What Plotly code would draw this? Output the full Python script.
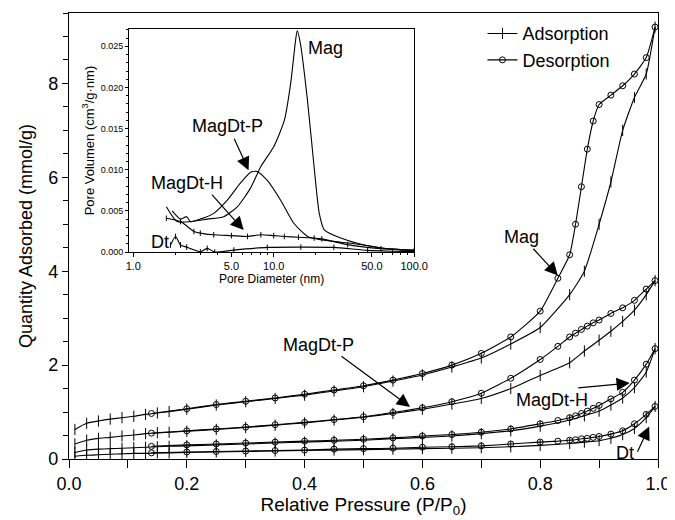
import plotly.graph_objects as go

# ---------------- main isotherm data ----------------
p_ads = [0.01, 0.03, 0.05, 0.07, 0.09, 0.11, 0.13, 0.15, 0.17, 0.20, 0.25, 0.30, 0.35, 0.40, 0.45,
         0.50, 0.55, 0.60, 0.65, 0.70, 0.75, 0.80, 0.85, 0.875, 0.90, 0.92, 0.94, 0.96, 0.98, 0.995]
p_des = [0.14, 0.20, 0.25, 0.30, 0.35, 0.40, 0.45, 0.50, 0.55, 0.60, 0.65, 0.70, 0.75, 0.80,
         0.83, 0.85, 0.86, 0.87, 0.88, 0.89, 0.90, 0.92, 0.94, 0.96, 0.98, 0.995]

mag_ads = [0.63, 0.76, 0.81, 0.85, 0.88, 0.91, 0.95, 0.98, 1.01, 1.06, 1.15, 1.22, 1.29, 1.36, 1.45,
           1.54, 1.66, 1.79, 1.96, 2.15, 2.45, 2.80, 3.50, 4.00, 5.00, 5.90, 7.00, 7.70, 8.20, 9.20]
mag_des = [0.97, 1.07, 1.16, 1.23, 1.30, 1.38, 1.47, 1.56, 1.68, 1.82, 2.00, 2.25, 2.60, 3.15,
           3.85, 4.35, 5.00, 5.80, 6.60, 7.20, 7.55, 7.75, 7.95, 8.20, 8.55, 9.20]

mdp_ads = [0.32, 0.40, 0.44, 0.46, 0.49, 0.51, 0.54, 0.56, 0.57, 0.59, 0.63, 0.67, 0.72, 0.77, 0.83,
           0.89, 0.97, 1.06, 1.17, 1.29, 1.50, 1.78, 2.05, 2.30, 2.53, 2.72, 2.93, 3.17, 3.50, 3.80]
mdp_des = [0.55, 0.60, 0.64, 0.68, 0.73, 0.78, 0.84, 0.90, 0.99, 1.09, 1.22, 1.40, 1.72, 2.12,
           2.40, 2.60, 2.68, 2.76, 2.83, 2.90, 2.96, 3.10, 3.22, 3.38, 3.62, 3.80]

mdh_ads = [0.14, 0.19, 0.21, 0.22, 0.23, 0.24, 0.25, 0.26, 0.27, 0.28, 0.30, 0.32, 0.34, 0.36, 0.38,
           0.40, 0.43, 0.46, 0.49, 0.54, 0.60, 0.70, 0.83, 0.92, 1.02, 1.15, 1.30, 1.52, 1.85, 2.35]
mdh_des = [0.27, 0.30, 0.32, 0.34, 0.36, 0.38, 0.40, 0.42, 0.45, 0.49, 0.52, 0.57, 0.64, 0.75,
           0.82, 0.88, 0.92, 0.97, 1.02, 1.08, 1.14, 1.28, 1.42, 1.68, 2.02, 2.35]

dt_ads = [0.06, 0.08, 0.09, 0.10, 0.11, 0.12, 0.12, 0.13, 0.13, 0.14, 0.15, 0.16, 0.17, 0.18, 0.19,
          0.20, 0.21, 0.22, 0.23, 0.24, 0.26, 0.29, 0.33, 0.36, 0.39, 0.44, 0.52, 0.65, 0.88, 1.12]
dt_des = [0.13, 0.15, 0.16, 0.17, 0.18, 0.19, 0.21, 0.22, 0.23, 0.25, 0.26, 0.28, 0.32, 0.36,
          0.38, 0.40, 0.41, 0.43, 0.44, 0.46, 0.48, 0.53, 0.60, 0.75, 0.95, 1.12]

# ---------------- inset pore size distribution data ----------------
mag_d = [1.72, 2.05, 2.55, 3.36, 4.4, 5.5, 6.85, 8.1, 10.0, 11.9, 13.2, 14.3, 14.7, 15.5, 17.4,
         19.4, 21.1, 22.9, 30, 44, 58, 80, 100]
mag_v = [0.0055, 0.0037, 0.0037, 0.0040, 0.0043, 0.0055, 0.0078, 0.0104, 0.0128, 0.0160, 0.0205,
         0.0257, 0.0269, 0.0253, 0.0184, 0.0103, 0.0047, 0.0027, 0.0017, 0.00085, 0.0005, 0.0003, 0.0002]

mdp_d = [1.89, 2.17, 2.4, 2.55, 3.0, 3.74, 4.67, 5.8, 6.85, 7.6, 9.0, 11.2, 13.9, 17.4, 21.6,
         30, 44, 58, 80, 100]
mdp_v = [0.0050, 0.0040, 0.0043, 0.0037, 0.0040, 0.0047, 0.0063, 0.0084, 0.0097, 0.0098, 0.0087,
         0.0063, 0.0035, 0.0019, 0.0015, 0.0012, 0.00085, 0.0005, 0.0003, 0.0002]

mdh_d = [1.72, 2.17, 2.7, 3.0, 3.74, 5.0, 6.5, 8.1, 10, 11.9, 15, 19.4, 22, 33.6, 58, 100]
mdh_v = [0.0041, 0.0037, 0.0025, 0.0023, 0.0021, 0.0020, 0.0019, 0.0021, 0.0020, 0.0019, 0.0018,
         0.0017, 0.0016, 0.0009, 0.0004, 0.0002]

dt_d = [1.84, 2.0, 2.17, 2.4, 3.0, 3.36, 3.8, 5.2, 9.0, 15.6, 26.8, 46.6, 70, 100]
dt_v = [0.00085, 0.0019, 0.00085, 0.0006, 0.00004, 0.00045, 0.0000, 0.00024, 0.00057, 0.0006,
        0.00057, 0.0002, 0.0001, 0.00005]

FONT = "Liberation Sans, Arial, sans-serif"
BLACK = "black"

fig = go.Figure()

pairs = [(mag_ads, mag_des), (mdp_ads, mdp_des), (mdh_ads, mdh_des), (dt_ads, dt_des)]
for i, (ads, des) in enumerate(pairs):
    fig.add_trace(go.Scatter(
        x=p_ads, y=ads, mode="lines+markers", name="Adsorption",
        legendgroup="ads", showlegend=(i == 0),
        line=dict(color=BLACK, width=1.1, shape="spline", smoothing=0.5),
        marker=dict(symbol="line-ns-open", size=8, line=dict(color=BLACK, width=1)),
        xaxis="x", yaxis="y"))
    fig.add_trace(go.Scatter(
        x=p_des, y=des, mode="lines+markers", name="Desorption",
        legendgroup="des", showlegend=(i == 0),
        line=dict(color=BLACK, width=1.1, shape="spline", smoothing=0.5),
        marker=dict(symbol="circle-open", size=6, line=dict(color=BLACK, width=1)),
        xaxis="x", yaxis="y"))

for d, v, mk in [(mag_d, mag_v, False), (mdp_d, mdp_v, False), (mdh_d, mdh_v, True), (dt_d, dt_v, True)]:
    fig.add_trace(go.Scatter(
        x=d, y=v, mode="lines+markers" if mk else "lines", showlegend=False,
        line=dict(color=BLACK, width=1.1, shape="spline", smoothing=0.6),
        marker=dict(symbol="line-ns-open", size=4, line=dict(color=BLACK, width=1)),
        xaxis="x2", yaxis="y2"))

ann = []
def text(x, y, s, xref="x", yref="y", size=18):
    ann.append(dict(x=x, y=y, xref=xref, yref=yref, text=s, showarrow=False,
                    font=dict(family=FONT, size=size, color=BLACK)))
def arrow(x, y, ax, ay, xref="x", yref="y"):
    ann.append(dict(x=x, y=y, ax=ax, ay=ay, xref=xref, yref=yref, axref=xref, ayref=yref,
                    text="", showarrow=True, arrowhead=2, arrowsize=2.2, arrowwidth=1.2,
                    arrowcolor=BLACK))

# main annotations
text(0.769, 4.72, "Mag")
arrow(0.830, 3.91, 0.786, 4.51)
text(0.423, 2.43, "MagDt-P")
arrow(0.579, 1.11, 0.46, 2.21)
text(0.82, 1.26, "MagDt-H")
arrow(0.952, 1.62, 0.862, 1.51)
text(0.944, 0.12, "Dt")
arrow(0.985, 0.69, 0.964, 0.12)

# inset annotations (log axis -> log10 positions)
text(1.371, 0.0248, "Mag", "x2", "y2", 18)
text(0.671, 0.0153, "MagDt-P", "x2", "y2", 18)
arrow(0.821, 0.00995, 0.714, 0.01396, "x2", "y2")
text(0.386, 0.00837, "MagDt-H", "x2", "y2", 18)
arrow(0.786, 0.00267, 0.55, 0.00716, "x2", "y2")
text(0.193, 0.0012, "Dt", "x2", "y2", 18)

axis_common = dict(showline=True, linecolor=BLACK, linewidth=1.2, mirror=True, automargin=False,
                   showgrid=False, zeroline=False, ticks="outside", tickcolor=BLACK)

# page body adds an 8px offset, so the figure is 8px smaller than the window
fig.update_layout(
    width=667, height=512,
    margin=dict(l=61, r=17, t=5, b=61),
    paper_bgcolor="white", plot_bgcolor="white",
    font=dict(family=FONT, color=BLACK),
    showlegend=True,
    legend=dict(x=0.702, y=0.995, xanchor="left", yanchor="top",
                bgcolor="rgba(0,0,0,0)", font=dict(family=FONT, size=18, color=BLACK),
                tracegroupgap=0, itemwidth=30),
    xaxis=dict(**axis_common, range=[0, 1.0], dtick=0.2, tickformat=".1f", ticklen=8,
               tickfont=dict(size=18), domain=[0, 1],
               minor=dict(dtick=0.1, ticks="outside", ticklen=8, tickcolor=BLACK),
               title=dict(text="Relative Pressure (P/P<sub>0</sub>)", font=dict(size=19), standoff=4)),
    yaxis=dict(**axis_common, range=[0, 9.5], dtick=2, ticklen=6, tickfont=dict(size=18),
               domain=[0, 1],
               minor=dict(dtick=0.5, ticks="outside", ticklen=5, tickcolor=BLACK),
               title=dict(text="Quantity Adsorbed (mmol/g)", font=dict(size=18), standoff=10)),
    xaxis2=dict(**axis_common, type="log", range=[-0.03, 2.0], anchor="y2",
                domain=[0.102, 0.586], ticklen=4,
                tickvals=[1, 5, 10, 50, 100], ticktext=["1.0", "5.0", "10.0", "50.0", "100.0"],
                tickfont=dict(size=11),
                minor=dict(tickvals=[2, 3, 4, 6, 7, 8, 9, 20, 30, 40, 60, 70, 80, 90],
                           ticks="outside", ticklen=2, tickcolor=BLACK),
                title=dict(text="Pore Diameter (nm)", font=dict(size=12), standoff=2)),
    yaxis2=dict(**axis_common, range=[0, 0.0271], anchor="x2",
                domain=[0.464, 0.964], dtick=0.005, tickformat=".3f", ticklen=3,
                tickfont=dict(size=9),
                minor=dict(dtick=0.001, ticks="outside", ticklen=2, tickcolor=BLACK),
                title=dict(text="Pore Volumen (cm<sup>3</sup>/g·nm)", font=dict(size=13), standoff=3)),
    annotations=ann,
)

fig.write_html("out.html")
